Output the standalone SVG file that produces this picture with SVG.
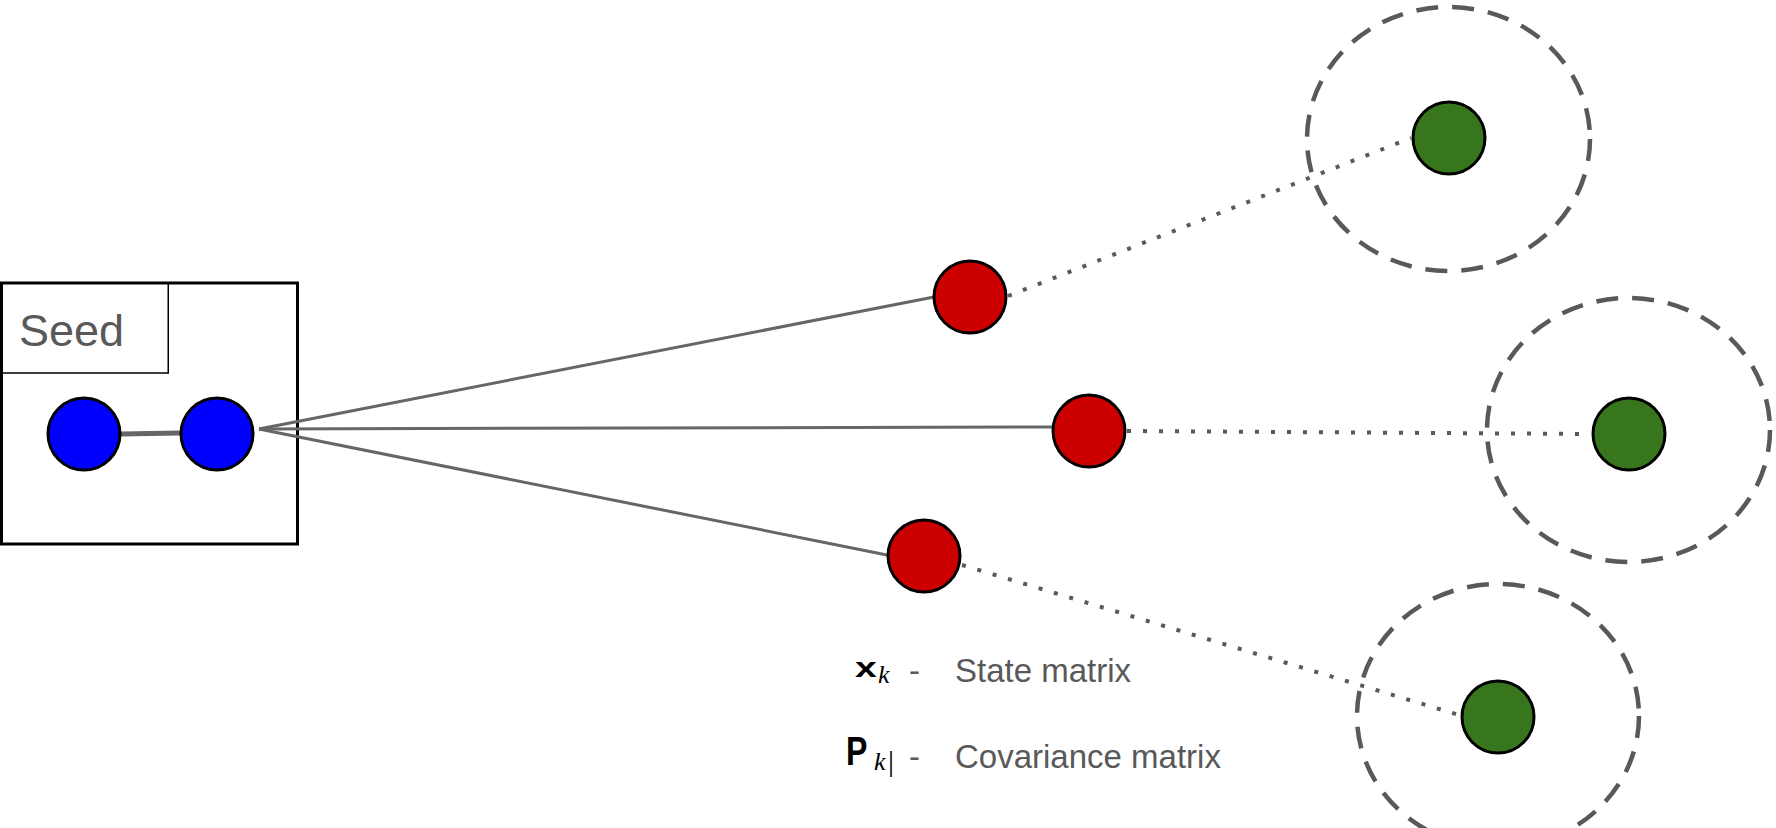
<svg xmlns="http://www.w3.org/2000/svg" width="1776" height="828" viewBox="0 0 1776 828">
<style>
.node{stroke:#000;stroke-width:3}
.blue{fill:#0000ff}
.red{fill:#cc0000}
.green{fill:#38761d}
.solid{stroke:#666;stroke-width:3;fill:none}
.dot{stroke:#595959;stroke-width:4;fill:none;stroke-dasharray:4 12}
.unc{stroke:#595959;stroke-width:4.5;fill:none;stroke-dasharray:22 14}
.lbl{font-family:"Liberation Sans",Arial,sans-serif;fill:#595959}
.math{font-family:"Liberation Sans",Arial,sans-serif;font-weight:bold;fill:#000}
.sub{font-family:"Liberation Serif","Times New Roman",serif;font-style:italic;fill:#000}
</style>
<rect width="1776" height="828" fill="#fff"/>
<g id="seed">
<rect x="1.5" y="283" width="296" height="261" fill="none" stroke="#000" stroke-width="3"/>
<rect x="0.75" y="283" width="167.5" height="90" fill="none" stroke="#000" stroke-width="1.5"/>
<text class="lbl" x="19" y="346" font-size="45">Seed</text>
</g>
<g id="connectors">
<line x1="121" y1="434" x2="180" y2="433" stroke="#666" stroke-width="5"/>
<line class="solid" x1="259" y1="429" x2="934" y2="297"/>
<line class="solid" x1="259" y1="429" x2="1052" y2="427"/>
<line class="solid" x1="259" y1="429" x2="887" y2="555"/>
<line class="dot" x1="1008" y1="296" x2="1411" y2="138"/>
<line class="dot" x1="1127" y1="431" x2="1591" y2="434"/>
<line class="dot" x1="962" y1="565" x2="1459" y2="715"/>
</g>
<g id="blue1"><circle class="node blue" cx="84" cy="434" r="36"/></g>
<g id="blue2"><circle class="node blue" cx="217" cy="434" r="36"/></g>
<g id="red1"><circle class="node red" cx="970" cy="297" r="36"/></g>
<g id="red2"><circle class="node red" cx="1089" cy="431" r="36"/></g>
<g id="red3"><circle class="node red" cx="924" cy="556" r="36"/></g>
<g id="green1">
<ellipse class="unc" cx="1448.5" cy="139" rx="141.5" ry="132"/>
<circle class="node green" cx="1449" cy="138" r="36"/>
</g>
<g id="green2">
<ellipse class="unc" cx="1628.5" cy="430" rx="141.5" ry="132"/>
<circle class="node green" cx="1629" cy="434" r="36"/>
</g>
<g id="green3">
<ellipse class="unc" cx="1498" cy="716" rx="141" ry="132"/>
<circle class="node green" cx="1498" cy="717" r="36"/>
</g>
<g id="legend">
<text class="math" transform="translate(855 677) scale(1.45 1)" font-size="27">x</text>
<text class="sub" x="878" y="683" font-size="26">k</text>
<text class="lbl" x="909" y="682" font-size="33">-</text>
<text class="lbl" x="955" y="682" font-size="33">State matrix</text>
<text class="math" transform="translate(846 765) scale(0.8 1)" font-size="40">P</text>
<text class="sub" x="874" y="770" font-size="26">k</text>
<text x="888" y="771" font-size="30" font-family="'Liberation Serif',serif" fill="#000">|</text>
<text class="lbl" x="909" y="768" font-size="33">-</text>
<text class="lbl" x="955" y="768" font-size="33">Covariance matrix</text>
</g>
</svg>
